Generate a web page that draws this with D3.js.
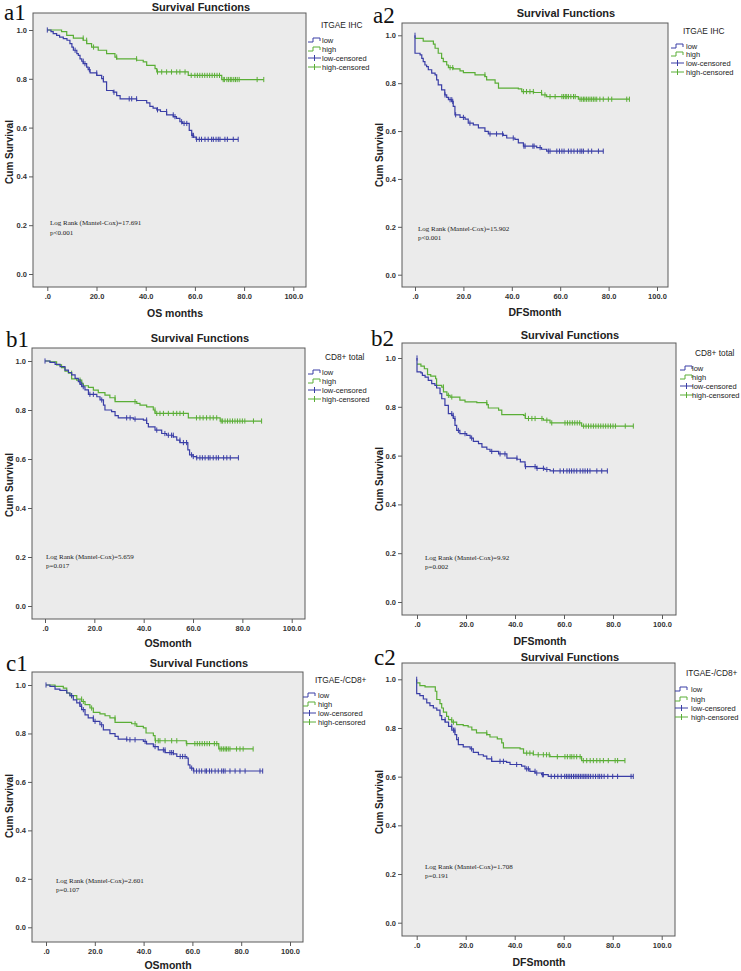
<!DOCTYPE html>
<html><head><meta charset="utf-8">
<script src="https://cdn.jsdelivr.net/npm/d3@7/dist/d3.min.js"></script>
<style>body{margin:0;background:#fff}svg{display:block}</style>
</head><body>
<svg id="chart" width="741" height="971"></svg>
<script>
// ---------- tick labels ----------
const xTickValues = [0, 20, 40, 60, 80, 100];
const xTickLabels = [".0", "20.0", "40.0", "60.0", "80.0", "100.0"];
const yTickValues = [0, 0.2, 0.4, 0.6, 0.8, 1.0];
const yTickLabels = ["0.0", "0.2", "0.4", "0.6", "0.8", "1.0"];
const legendLabels = ["low", "high", "low-censored", "high-censored"];

// ---------- a1 : ITGAE IHC, OS ----------
const a1LowTime = [0,1.5,2.4,3.8,5,6.5,8,9.2,10,10.6,12,12.6,13.3,14,14.6,16,16.6,17.4,20.1,22.1,22.8,24.1,26.8,28.2,29.6,36.3,40.4,41.7,43,44.5,46,48.5,51.2,52.5,53.9,55,57.7,58.7,59.5,60.5];
const a1LowSurv = [1,0.993,0.985,0.978,0.971,0.965,0.958,0.944,0.93,0.917,0.903,0.896,0.882,0.872,0.862,0.848,0.838,0.824,0.814,0.801,0.787,0.752,0.745,0.731,0.718,0.711,0.701,0.687,0.68,0.673,0.666,0.652,0.645,0.638,0.624,0.617,0.589,0.568,0.561,0.552];
const a1LowCens = [0,11.3,14.6,15.3,17.1,20.1,22.8,27.1,33.3,34.3,36.3,44.8,48.5,51.2,51.9,54.6,55.6,56.7,58.9,59.4,60.7,61.8,62.7,64.1,65.4,66.8,67.5,68.6,69.5,70.2,72.2,73.2,75.6,77.6];
const a1HighTime = [0,5.8,7.9,10.6,14.6,16,18,20.7,24.1,27.5,28.2,36.3,39,40.4,43.8,44.5,57.3,70.9];
const a1HighSurv = [1,0.993,0.978,0.967,0.958,0.944,0.93,0.917,0.903,0.889,0.882,0.876,0.869,0.855,0.842,0.828,0.814,0.797];
const a1HighCens = [14.6,16,18.8,28.2,36.3,44.8,46.5,48.5,50.5,52.6,53.9,56,58.5,60,61,62,63,64,65,66,67,68,69,70,71.5,72,73,73.7,74.4,75,75.8,76.5,77.2,78,85.3,88];

// ---------- a2 : ITGAE IHC, DFS ----------
const a2LowTime = [0,0,2.1,2.8,3.4,4.1,4.8,5.5,6.9,8.3,8.95,9.6,11,12.3,13.1,13.8,15.2,15.8,16.5,18.6,20.7,22,24.1,26.2,28.9,30.3,36.5,37.9,41.3,42.7,44.8,50.3,52.3,54.4];
const a2LowSurv = [1,0.925,0.918,0.904,0.89,0.876,0.869,0.856,0.842,0.835,0.814,0.793,0.772,0.751,0.741,0.731,0.724,0.703,0.668,0.657,0.65,0.633,0.626,0.613,0.599,0.588,0.582,0.571,0.565,0.551,0.537,0.531,0.524,0.516];
const a2LowCens = [0,12.4,14.5,15.2,15.6,16.8,20,22.7,31,33.7,36.2,40.6,45,45.5,48.7,49.2,51.7,55.1,55.8,58.6,59.7,60.7,61.6,63.4,64.5,65.7,67.1,68.2,68.9,69.6,71.6,73,75.8,77.8];
const a2HighTime = [0,3.4,7.6,8.3,9.6,11,11.7,13.1,13.8,15.8,18.6,20,24.8,28.9,29.6,33.1,34.5,42.7,44.1,49,52.3,54.4,67.5];
const a2HighSurv = [0.987,0.976,0.963,0.946,0.925,0.904,0.89,0.876,0.865,0.86,0.851,0.844,0.835,0.828,0.814,0.8,0.779,0.776,0.765,0.761,0.751,0.744,0.733];
const a2HighCens = [14.5,15.6,28.9,44.8,46.1,47.5,48.9,52.3,53.7,55.8,57.9,60.7,61.4,62.1,62.7,63.4,64.4,65.5,66.2,68.2,68.9,69.6,70.2,70.9,71.6,72.3,73,73.7,74.4,75.1,76.4,77.8,79.9,81.3,87.5,88.6];

// ---------- b1 : CD8+ total, OS ----------
const b1LowTime = [0,2,4.1,6.1,8.1,9.5,10.8,12.2,13.5,14.2,14.9,16.2,17.6,21,22.3,23.7,24.3,27,28.4,29.7,35.8,39.9,41.2,41.9,44.6,47.3,49.3,52,53.4,54.7,57.9,58.6,60,61.4];
const b1LowSurv = [1,0.994,0.986,0.977,0.963,0.953,0.943,0.929,0.916,0.905,0.895,0.882,0.864,0.854,0.841,0.82,0.8,0.793,0.777,0.768,0.763,0.759,0.745,0.731,0.718,0.704,0.697,0.69,0.677,0.667,0.637,0.617,0.61,0.605];
const b1LowCens = [0,14.2,14.9,15.5,18.2,19.6,23,33.1,34.5,36.5,41.2,45.3,48.6,50,51.3,52,54.7,56.1,57.4,59.4,60.1,61.5,62.8,63.8,64.9,66.2,66.9,68.2,69.4,70.3,72.4,73.7,75.1,78.4];
const b1HighTime = [0,2,4.7,6.7,8.1,9.5,10.8,12.8,14.9,15.5,17.6,19.6,21.6,24.3,26.3,28.4,37.2,38.5,41.2,43.9,44.6,58.1,71];
const b1HighSurv = [1,0.997,0.984,0.973,0.959,0.95,0.927,0.922,0.909,0.899,0.892,0.881,0.871,0.861,0.85,0.834,0.827,0.82,0.813,0.8,0.786,0.768,0.755];
const b1HighCens = [10.8,14.2,28.4,36.5,44.6,45.3,46.6,48,50,52,53.4,54.7,56.1,61.4,62.8,64.1,65.5,66.9,68.2,69.6,71.4,72,73,74,75,76,77,78,79,80,81,84.5,87.8];

// ---------- b2 : CD8+ total, DFS ----------
const b2LowTime = [0,0,1.6,2.2,3.3,4.6,6,7.3,8,9.4,10.1,11.4,12.8,14.2,14.8,15.5,16.2,17.5,20.3,21.7,23,25.1,26.5,28.5,29.8,33.3,36.7,40.8,42.2,44.1,48.8,52.2,54.3];
const b2LowSurv = [1,0.943,0.939,0.929,0.922,0.908,0.895,0.888,0.877,0.854,0.833,0.806,0.772,0.765,0.752,0.724,0.703,0.69,0.683,0.672,0.658,0.649,0.635,0.626,0.617,0.607,0.59,0.585,0.574,0.555,0.548,0.543,0.537];
const b2LowCens = [0,14.2,14.8,15.5,16.9,19.6,22.3,30.5,33.9,35.9,40.8,44.3,48.2,49,51.6,53,55.7,58.4,59.8,61.2,62.2,63.1,64.1,65.2,66.6,67.7,68.6,69.6,70.6,73.4,75.4,77.7];
const b2HighTime = [0,1.6,3,4.3,5.6,7.6,8,10.1,10.8,12.2,13.5,17.5,19.6,24.4,28.5,29.1,33.3,34.6,43.5,44.2,51.6,54.3,67.2];
const b2HighSurv = [0.975,0.967,0.956,0.932,0.926,0.915,0.888,0.881,0.861,0.847,0.84,0.827,0.82,0.817,0.809,0.795,0.786,0.768,0.765,0.752,0.745,0.734,0.721];
const b2HighCens = [10.8,12.8,14.2,28.5,44.2,45.5,46.9,48.2,51,53,55,60.4,61.4,62.4,63.4,64.4,65.4,66.4,68,69,70,71,72,73,74,75,76,77,78,79,80,81,85,88.3];

// ---------- c1 : ITGAE-/CD8+, OS ----------
const c1LowTime = [0,1.6,3.7,5.7,8.5,9.8,11.2,12.6,13.9,14.6,16,17.3,19.4,22.1,23.5,26.2,28.3,29.6,33.1,39.9,41.2,44,46,48.8,52.2,53.6,57.7,58.3,59,60.4];
const c1LowSurv = [1,0.994,0.983,0.978,0.967,0.956,0.939,0.926,0.912,0.898,0.877,0.864,0.85,0.836,0.815,0.799,0.788,0.777,0.774,0.767,0.757,0.746,0.732,0.721,0.716,0.705,0.698,0.67,0.657,0.645];
const c1LowCens = [0,10.5,13.9,14.6,15.3,19.4,20.1,22.8,33.1,34.4,36.5,40.6,44.7,48.1,48.8,50.8,51.5,52.2,55,56,57,59.7,60.6,61.7,62.8,63.8,65.2,65.8,67,67.9,69.3,70.6,72,72.7,73.4,75.4,77.5,79.5,81.6,87.7,88.8];
const c1HighTime = [0,3.7,7.1,8.5,9.8,12.6,14.6,16,18,19.4,22.1,24.2,26.2,28.3,35.1,37.2,39.9,41,44,44.7,57.5,70.8];
const c1HighSurv = [1,0.994,0.987,0.967,0.956,0.942,0.932,0.919,0.905,0.887,0.881,0.873,0.864,0.846,0.84,0.829,0.823,0.802,0.791,0.77,0.758,0.736];
const c1HighCens = [10.5,14.6,15.3,18.7,28.3,36.5,44.9,46,46.7,48.8,51.5,53.6,57.7,61,62,63,64,65,66,67,69,70,71.3,72,72.7,73.4,74,74.7,75.4,78.1,79.5,80.8,84.9];

// ---------- c2 : ITGAE-/CD8+, DFS ----------
const c2LowTime = [0,0,1.3,2.7,4.1,5.4,6.8,8.2,9.5,10.2,11.6,13,14.3,15.6,16.3,17,19,21.8,23.1,25.2,27.2,28.6,30.6,36.7,38.1,42.8,44.2,46.2,48.3,51,53.7];
const c2LowSurv = [1,0.941,0.933,0.919,0.903,0.892,0.882,0.873,0.851,0.834,0.824,0.807,0.791,0.773,0.752,0.732,0.722,0.714,0.7,0.69,0.684,0.673,0.663,0.659,0.65,0.643,0.632,0.622,0.615,0.608,0.601];
const c2LowCens = [0,11.6,14.3,15,15.6,17,22.4,30.6,34,35.4,40.8,44.9,45.6,48.3,49,51.3,51.7,54.9,56.3,57.6,59,60.4,61.1,61.8,62.5,63.2,64,64.7,65.4,66.1,66.8,67.5,68.2,68.8,69.5,70.2,71,72,73,74,74.7,75.5,76.5,78,80,82,87.5,88.4];
const c2HighTime = [0,1.3,3.4,7.6,8.2,9.5,10.2,10.9,12.2,13,14.3,16.3,19,21,22.5,24.4,28.6,29.9,32.9,34.7,35.4,42.2,43.6,47.6,54.4,67.3];
const c2HighSurv = [0.985,0.974,0.969,0.951,0.917,0.9,0.882,0.865,0.848,0.834,0.824,0.814,0.81,0.804,0.792,0.78,0.773,0.763,0.755,0.739,0.718,0.714,0.697,0.69,0.682,0.666];
const c2HighCens = [14.3,15,28.6,44.9,46.2,47.6,49.6,51.7,53,54.1,57.4,60.5,61.5,62.6,63.3,64.2,65.3,66.7,68,69.4,70.8,72.1,73.5,74.8,76.2,78.2,81,82,85];

// ---------- panel texts ----------
const panelIds = ["a1", "a2", "b1", "b2", "c1", "c2"];
const xTitles = ["OS months", "DFSmonth", "OSmonth", "DFSmonth", "OSmonth", "DFSmonth"];
const groupTitles = ["ITGAE IHC", "ITGAE IHC", "CD8+ total", "CD8+ total", "ITGAE-/CD8+", "ITGAE-/CD8+"];
const logRankValues = ["17.691", "15.902", "5.659", "9.92", "2.601", "1.708"];
const pValues = ["p<0.001", "p<0.001", "p=0.017", "p=0.002", "p=0.107", "p=0.191"];

const curves = [
  {low:[a1LowTime,a1LowSurv,a1LowCens], high:[a1HighTime,a1HighSurv,a1HighCens]},
  {low:[a2LowTime,a2LowSurv,a2LowCens], high:[a2HighTime,a2HighSurv,a2HighCens]},
  {low:[b1LowTime,b1LowSurv,b1LowCens], high:[b1HighTime,b1HighSurv,b1HighCens]},
  {low:[b2LowTime,b2LowSurv,b2LowCens], high:[b2HighTime,b2HighSurv,b2HighCens]},
  {low:[c1LowTime,c1LowSurv,c1LowCens], high:[c1HighTime,c1HighSurv,c1HighCens]},
  {low:[c2LowTime,c2LowSurv,c2LowCens], high:[c2HighTime,c2HighSurv,c2HighCens]}
];

// ---------- layout (pixel geometry of each panel) ----------
const layouts = [
  {box:[33,13,306,287], xr:[47.3,293.3], yr:[274,30], title:[201,11], label:[4,20], legT:[321,28], legSX:308, legTX:322, legY:[40,49,58,67], xT:[175,317], yT:[9,152], stats:[50,225,235]},
  {box:[402,23,668,287], xr:[415,657], yr:[274.7,35.3], title:[566,17], label:[373,23], legT:[683,34], legSX:671, legTX:686, legY:[46,54,63,72], xT:[535,316], yT:[379,155], stats:[418,231,240]},
  {box:[32,348,305,619], xr:[45,291.7], yr:[606,361], title:[200,342], label:[6,347], legT:[325,360], legSX:308, legTX:322, legY:[372,381,390,399], xT:[168,647], yT:[9,485], stats:[46,559,568]},
  {box:[402,343,676,615], xr:[417,662], yr:[602,358], title:[570,339], label:[371,346], legT:[695,356], legSX:680, legTX:692, legY:[368,377,386,395], xT:[540,645], yT:[379,479], stats:[425,560,569]},
  {box:[32,672,303,942], xr:[46,290], yr:[927.3,685], title:[199,667], label:[6,671], legT:[315,683], legSX:303, legTX:318, legY:[695,704,713,722], xT:[168,969], yT:[9,806], stats:[56,883,892]},
  {box:[402,663,675,936], xr:[416.7,661.7], yr:[922.7,679.3], title:[570,661], label:[374,665], legT:[686,676], legSX:675, legTX:691, legY:[689,699,708,717], xT:[539,966], yT:[379,802], stats:[425,869,878]}
];

const BLUE = "#3a3ea6", GREEN = "#5aae36";
const SANS = "'Liberation Sans', Arial, sans-serif";
const SERIF = "'Liberation Serif', 'Times New Roman', serif";

const svg = d3.select("#chart");

function survAt(times, surv, t) {
  let v = surv[0];
  for (let i = 0; i < times.length; i++) { if (times[i] < t) v = surv[i]; }
  return v;
}

panelIds.forEach((id, k) => {
  const L = layouts[k];
  const g = svg.append("g");
  const x = d3.scaleLinear().domain([0, 100]).range(L.xr);
  const y = d3.scaleLinear().domain([0, 1]).range(L.yr);
  const [bl, bt, br, bb] = L.box;

  g.append("rect").attr("x", bl).attr("y", bt).attr("width", br - bl).attr("height", bb - bt)
    .attr("fill", "#ebebeb").attr("stroke", "#5a5a5a").attr("stroke-width", 1);

  const xa = g.append("g").attr("transform", `translate(0,${bb})`)
    .call(d3.axisBottom(x).tickValues(xTickValues).tickFormat((d, i) => xTickLabels[i]).tickSize(4).tickPadding(3));
  const ya = g.append("g").attr("transform", `translate(${bl},0)`)
    .call(d3.axisLeft(y).tickValues(yTickValues).tickFormat((d, i) => yTickLabels[i]).tickSize(4).tickPadding(2));
  [xa, ya].forEach(a => {
    a.select(".domain").remove();
    a.selectAll("line").attr("stroke", "#5a5a5a");
    a.selectAll("text").attr("font-family", SANS).attr("font-size", 7.5).attr("font-weight", "bold").attr("fill", "#333");
  });

  // curves
  const line = d3.line().x(d => x(d[0])).y(d => y(d[1])).curve(d3.curveStepAfter);
  [["high", GREEN], ["low", BLUE]].forEach(([key, col]) => {
    const [T, S, C] = curves[k][key];
    const pts = T.map((t, i) => [t, S[i]]);
    const last = d3.max(C);
    if (last > T[T.length - 1]) pts.push([last, S[S.length - 1]]);
    g.append("path").attr("d", line(pts)).attr("fill", "none").attr("stroke", col).attr("stroke-width", 1.2);
    g.selectAll(null).data(C).enter().append("line")
      .attr("x1", d => x(d)).attr("x2", d => x(d))
      .attr("y1", d => y(survAt(T, S, d)) - 2.6).attr("y2", d => y(survAt(T, S, d)) + 2.6)
      .attr("stroke", col).attr("stroke-width", 1);
  });

  // title and labels
  g.append("text").attr("x", L.title[0]).attr("y", L.title[1]).attr("text-anchor", "middle")
    .attr("font-family", SANS).attr("font-weight", "bold").attr("font-size", 11).attr("fill", "#222").text("Survival Functions");
  g.append("text").attr("x", L.label[0]).attr("y", L.label[1])
    .attr("font-family", SERIF).attr("font-size", 23).attr("fill", "#111").text(id);
  g.append("text").attr("x", L.xT[0]).attr("y", L.xT[1]).attr("text-anchor", "middle")
    .attr("font-family", SANS).attr("font-weight", "bold").attr("font-size", 10.5).attr("fill", "#222").text(xTitles[k]);
  g.append("text").attr("transform", `translate(${L.yT[0] + 3.5},${L.yT[1]}) rotate(-90)`).attr("text-anchor", "middle")
    .attr("font-family", SANS).attr("font-weight", "bold").attr("font-size", 10).attr("fill", "#222").text("Cum Survival");

  // stats
  g.append("text").attr("x", L.stats[0]).attr("y", L.stats[1]).attr("font-family", SERIF).attr("font-size", 7).attr("fill", "#222")
    .text("Log Rank (Mantel-Cox)=" + logRankValues[k]);
  g.append("text").attr("x", L.stats[0]).attr("y", L.stats[2]).attr("font-family", SERIF).attr("font-size", 7).attr("fill", "#222")
    .text(pValues[k]);

  // legend
  g.append("text").attr("x", L.legT[0]).attr("y", L.legT[1]).attr("font-family", SANS).attr("font-size", 8.3).attr("fill", "#222").text(groupTitles[k]);
  legendLabels.forEach((lab, i) => {
    const cy = L.legY[i], sx = L.legSX, col = i % 2 === 0 ? BLUE : GREEN;
    if (i < 2) {
      g.append("path").attr("d", `M${sx},${cy + 2}H${sx + 5}V${cy - 2}H${sx + 12}V${cy + 1}`)
        .attr("fill", "none").attr("stroke", col).attr("stroke-width", 1);
    } else {
      g.append("path").attr("d", `M${sx},${cy}H${sx + 13}M${sx + 6.5},${cy - 3}V${cy + 3}`)
        .attr("fill", "none").attr("stroke", col).attr("stroke-width", 1);
    }
    g.append("text").attr("x", L.legTX).attr("y", cy + 3).attr("font-family", SANS).attr("font-size", 7.5).attr("fill", "#222").text(lab);
  });
});
</script>
</body></html>
